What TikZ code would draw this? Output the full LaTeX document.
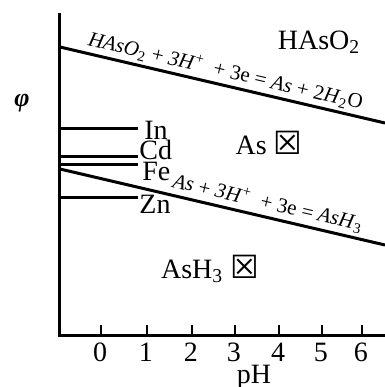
\documentclass[tikz,border=0pt]{standalone}
\usepackage{fontspec}
\setmainfont{Liberation Serif}
\newfontfamily\boxfont{DejaVu Sans}
\usetikzlibrary{positioning,calc}

\begin{document}
\begin{tikzpicture}[x=0.5pt,y=-0.5pt,
  axisline/.style={line width=1.5pt},
  tickline/.style={line width=1.1pt},
  boundary/.style={line width=1.5pt},
  metalline/.style={line width=1.5pt},
  metallabel/.style={anchor=west, inner sep=0pt, font=\fontsize{14}{15}\selectfont},
  eqlabel/.style={sloped, above, inner sep=1.5pt, font=\fontsize{10.5}{11}\selectfont},
  region/.style={inner sep=0pt, font=\fontsize{14}{15}\selectfont},
  ticklabel/.style={inner sep=0pt, font=\fontsize{14}{15}\selectfont}]
\useasboundingbox (0,0) rectangle (385,387);
% axes
\coordinate (origin) at (60,335);
\coordinate (ytop) at (60,13);
\coordinate (xend) at (385,335);
\draw[axisline] (ytop) -- (origin) -- (xend);
\foreach \px/\lab in {101/0,147/1,192/2,235/3,279/4,322/5,362/6} {
  \coordinate (tick\lab) at (\px,335);
  \coordinate (tickend\lab) at (\px,325);
  \draw[tickline] (tick\lab) -- (tickend\lab);
  \node[ticklabel] (num\lab) at (\px-1,352) {\lab};
}
\node[font=\fontsize{14}{15}\selectfont, inner sep=0pt] (phlabel) at (254,377) {pH};
\node[font=\fontsize{13}{14}\selectfont\bfseries\itshape, inner sep=0pt] (philabel) at (22,103) {φ};
% boundaries
\coordinate (upA) at (60,47);
\coordinate (upB) at (385,123);
\draw[boundary] (upA) -- (upB)
  node[eqlabel, pos=0.5] (upeq) {\textit{HAsO}\textsubscript{2} + \textit{3H}\textsuperscript{+}\ \ + 3e = \textit{As} + 2\textit{H}\textsubscript{2}O};
\coordinate (lowA) at (60,169);
\coordinate (lowB) at (385,245);
\draw[boundary] (lowA) -- (lowB)
  node[eqlabel, pos=0.63] (loweq) {\textit{As} + \textit{3H}\textsuperscript{+}\ \ + 3e = \textit{AsH}\textsubscript{3}};
% metals
\foreach \m/\py/\lx/\ly in {In/128/144/130, Cd/156/139/150, Fe/164/142/171, Zn/197/139/204} {
  \coordinate (\m A) at (60,\py);
  \coordinate (\m B) at (138,\py);
  \draw[metalline] (\m A) -- (\m B);
  \node[metallabel] (\m label) at (\lx,\ly) {\m};
}
% regions
\node[region] (hasoregion) at (319,42) {HAsO\textsubscript{2}};
\node[region] (asregion) at (269,143) {As {\boxfont\fontsize{16}{16}\selectfont ☒}};
\node[region] (ash3region) at (210,269) {AsH\textsubscript{3} {\boxfont\fontsize{16}{16}\selectfont ☒}};
\end{tikzpicture}
\end{document}
